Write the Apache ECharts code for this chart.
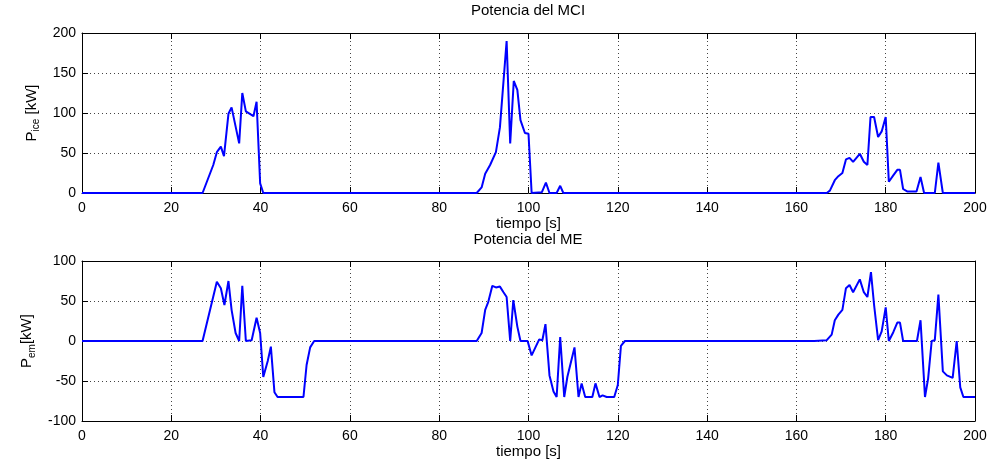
<!DOCTYPE html>
<html>
<head>
<meta charset="utf-8">
<script src="https://cdn.jsdelivr.net/npm/echarts@6/dist/echarts.min.js"></script>
<style>html,body{margin:0;padding:0;background:#fff}#c{width:992px;height:464px}</style>
</head>
<body>
<div id="c"></div>
<script>
const titleTop = 'Potencia del MCI';
const titleBottom = 'Potencia del ME';
const xName = 'tiempo [s]';
const xTicks = [0, 20, 40, 60, 80, 100, 120, 140, 160, 180, 200];
const yTicksIce = [0, 50, 100, 150, 200];
const yTicksEm = [-100, -50, 0, 50, 100];

const timeIce = [0, 27.0, 29.4, 30.2, 31.1, 31.8, 32.8, 33.5, 35.2, 35.9, 36.7, 38.4, 39.1, 39.9, 40.6, 88.4, 89.5, 90.3, 91.4, 92.7, 93.6, 95.1, 95.9, 96.7, 97.5, 98.2, 99.2, 100.0, 100.7, 103.0, 103.9, 104.7, 106.3, 107.1, 107.8, 166.8, 167.5, 168.6, 169.4, 170.3, 171.1, 171.9, 172.7, 174.2, 175.1, 175.9, 176.6, 177.4, 178.3, 179.1, 180.0, 180.7, 181.7, 182.6, 183.2, 183.9, 184.8, 186.9, 187.8, 188.6, 191.0, 191.8, 192.8, 200];
const powerIce = [0, 0, 35, 51, 58, 46, 99, 107, 62, 125, 102, 96, 114, 12, 0, 0, 7, 24, 35, 51, 82, 190, 62, 140, 129, 91, 75, 74, 0, 1, 13, 0, 0, 9, 0, 0, 3, 16, 21, 25, 42, 44, 39, 49, 39, 35, 95, 95, 70, 77, 95, 14, 22, 29, 29, 5, 2, 2, 20, 0, 0, 38, 0, 0];

const timeEm = [0, 27.0, 30.2, 31.1, 31.9, 32.8, 33.5, 34.4, 35.2, 35.9, 36.7, 38.0, 39.1, 39.9, 40.6, 41.6, 42.3, 43.1, 43.8, 49.6, 50.3, 51.1, 52.0, 88.4, 89.5, 90.3, 91.0, 91.9, 92.7, 93.6, 94.4, 95.1, 95.9, 96.6, 97.5, 98.2, 99.8, 100.7, 102.4, 103.1, 103.8, 104.7, 105.6, 106.3, 107.1, 108.0, 108.7, 110.3, 111.2, 111.9, 112.7, 114.3, 115.0, 115.9, 116.6, 117.5, 119.2, 120.0, 120.7, 121.6, 164.0, 166.8, 167.9, 168.6, 169.4, 170.3, 171.1, 171.9, 172.7, 174.2, 175.1, 175.9, 176.7, 177.4, 178.3, 179.1, 180.0, 180.7, 181.7, 182.6, 183.2, 183.9, 187.0, 187.8, 188.8, 189.5, 190.3, 191.0, 191.8, 192.8, 193.7, 195.0, 195.9, 196.7, 197.4, 200];
const powerEm = [0, 0, 74, 66, 45, 75, 39, 10, 0, 69, 0, 1, 29, 10, -45, -25, -7, -64, -70, -70, -30, -8, 0, 0, 10, 39, 49, 69, 67, 68, 61, 55, 0, 51, 18, 0, 0, -18, 2, 1, 21, -43, -63, -70, 5, -70, -45, -8, -70, -53, -70, -70, -53, -70, -68, -70, -70, -55, -6, 0, 0, 1, 8, 26, 33, 39, 66, 70, 61, 77, 61, 55, 86, 45, 1, 12, 42, 0, 11, 23, 23, 0, 0, 26, -70, -47, 0, 1, 58, -38, -43, -46, 0, -58, -70, -70];

const FONT = "'Liberation Sans', Arial, Helvetica, sans-serif";
const chart = echarts.init(document.getElementById('c'), null, {renderer: 'canvas'});

function pairs(t, v) { return t.map((x, i) => [x, v[i]]); }

const gridLine = {show: true, lineStyle: {color: '#444', type: [1, 3], width: 1}};
const axisLine = {show: true, onZero: false, lineStyle: {color: '#000', width: 1}};
const tickIn = {show: true, inside: true, length: 6, lineStyle: {color: '#000'}};
const lbl = {color: '#000', fontSize: 14, fontFamily: FONT};

function xAxis(grid, pos, main) {
  return {
    type: 'value', gridIndex: grid, position: pos, min: 0, max: 200, interval: 20,
    axisLine: axisLine, axisTick: tickIn,
    axisLabel: main ? Object.assign({margin: 8}, lbl) : {show: false},
    splitLine: main ? gridLine : {show: false},
    name: main ? xName : '', nameLocation: 'middle', nameGap: 20,
    nameTextStyle: {color: '#000', fontSize: 15, fontFamily: FONT}
  };
}
function yAxis(grid, pos, main, min, max, interval, nameRich) {
  return {
    type: 'value', gridIndex: grid, position: pos, min: min, max: max, interval: interval,
    axisLine: axisLine, axisTick: tickIn,
    axisLabel: main ? Object.assign({margin: 6}, lbl) : {show: false},
    splitLine: main ? gridLine : {show: false},
    name: main ? nameRich : '', nameLocation: 'middle', nameGap: 38, nameRotate: 90,
    nameTextStyle: {
      color: '#000', fontFamily: FONT,
      rich: {
        a: {fontSize: 15, fontFamily: FONT, color: '#000', lineHeight: 20},
        b: {fontSize: 10, fontFamily: FONT, color: '#000', verticalAlign: 'bottom', lineHeight: 20}
      }
    }
  };
}

chart.setOption({
  animation: false,
  backgroundColor: '#fff',
  title: [
    {text: titleTop, left: 528, top: 3, textAlign: 'center', padding: 0,
     textStyle: {fontSize: 15, fontWeight: 'normal', color: '#000', fontFamily: FONT}},
    {text: titleBottom, left: 528, top: 232, textAlign: 'center', padding: 0,
     textStyle: {fontSize: 15, fontWeight: 'normal', color: '#000', fontFamily: FONT}}
  ],
  grid: [
    {left: 82, right: 17, top: 33, height: 160, containLabel: false},
    {left: 82, right: 17, top: 261, height: 160, containLabel: false}
  ],
  xAxis: [xAxis(0, 'bottom', true), xAxis(0, 'top', false), xAxis(1, 'bottom', true), xAxis(1, 'top', false)],
  yAxis: [
    yAxis(0, 'left', true, 0, 200, 50, '{a|P}{b|ice}{a| [kW]}'),
    yAxis(0, 'right', false, 0, 200, 50, ''),
    yAxis(1, 'left', true, -100, 100, 50, '{a|P}{b|em}{a|[kW]}'),
    yAxis(1, 'right', false, -100, 100, 50, '')
  ],
  series: [
    {type: 'line', xAxisIndex: 0, yAxisIndex: 0, data: pairs(timeIce, powerIce), showSymbol: false,
     lineStyle: {color: '#0000ff', width: 2}, itemStyle: {color: '#0000ff'}},
    {type: 'line', xAxisIndex: 2, yAxisIndex: 2, data: pairs(timeEm, powerEm), showSymbol: false,
     lineStyle: {color: '#0000ff', width: 2}, itemStyle: {color: '#0000ff'}}
  ]
});
</script>
</body>
</html>
